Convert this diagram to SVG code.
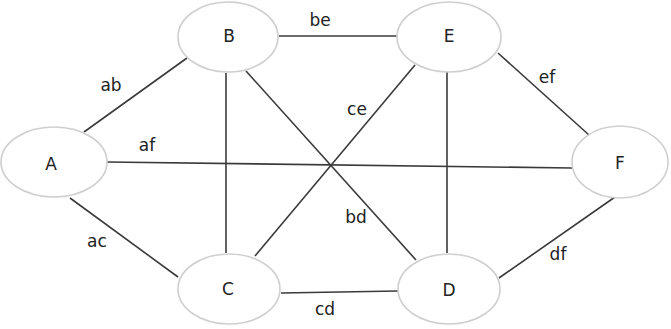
<svg xmlns="http://www.w3.org/2000/svg" width="671" height="329" viewBox="0 0 671 329">
  <style>
    .edge { stroke: #3a3a3a; stroke-width: 1.6; fill: none; }
    .node ellipse { fill: #ffffff; stroke: #cfcfcf; stroke-width: 1.6; }
    text { font-family: "DejaVu Sans", "Liberation Sans", sans-serif; font-size: 17px; fill: #222222; text-anchor: middle; }
  </style>
  <rect width="671" height="329" fill="#ffffff"/>

  <g id="connectors">
    <line class="edge" x1="84" y1="132" x2="187" y2="58"/>
    <line class="edge" x1="107" y1="162" x2="572" y2="168"/>
    <line class="edge" x1="70" y1="198" x2="178" y2="277"/>
    <line class="edge" x1="279" y1="36" x2="397" y2="36"/>
    <line class="edge" x1="226" y1="73" x2="226" y2="253"/>
    <line class="edge" x1="246" y1="71" x2="416" y2="260"/>
    <line class="edge" x1="255" y1="256" x2="415" y2="65"/>
    <line class="edge" x1="447" y1="72" x2="447" y2="253"/>
    <line class="edge" x1="498" y1="53" x2="589" y2="135"/>
    <line class="edge" x1="499" y1="278" x2="615" y2="197"/>
    <line class="edge" x1="281" y1="293" x2="398" y2="291"/>
    <text x="111" y="91">ab</text>
    <text x="147" y="151">af</text>
    <text x="97" y="247">ac</text>
    <text x="320" y="26">be</text>
    <text x="357" y="115">ce</text>
    <text x="547" y="83">ef</text>
    <text x="356" y="223">bd</text>
    <text x="558" y="260">df</text>
    <text x="325" y="315">cd</text>
  </g>

  <g id="node-A" class="node">
    <ellipse cx="54" cy="162" rx="53" ry="35"/>
    <text x="51" y="170">A</text>
  </g>
  <g id="node-B" class="node">
    <ellipse cx="228" cy="37" rx="50" ry="35"/>
    <text x="229" y="42">B</text>
  </g>
  <g id="node-C" class="node">
    <ellipse cx="229" cy="289" rx="51" ry="35"/>
    <text x="228" y="295">C</text>
  </g>
  <g id="node-D" class="node">
    <ellipse cx="449" cy="289" rx="51" ry="35"/>
    <text x="449" y="296">D</text>
  </g>
  <g id="node-E" class="node">
    <ellipse cx="449" cy="37" rx="52" ry="35"/>
    <text x="449" y="42">E</text>
  </g>
  <g id="node-F" class="node">
    <ellipse cx="620" cy="162" rx="48" ry="36"/>
    <text x="620" y="169">F</text>
  </g>
</svg>
